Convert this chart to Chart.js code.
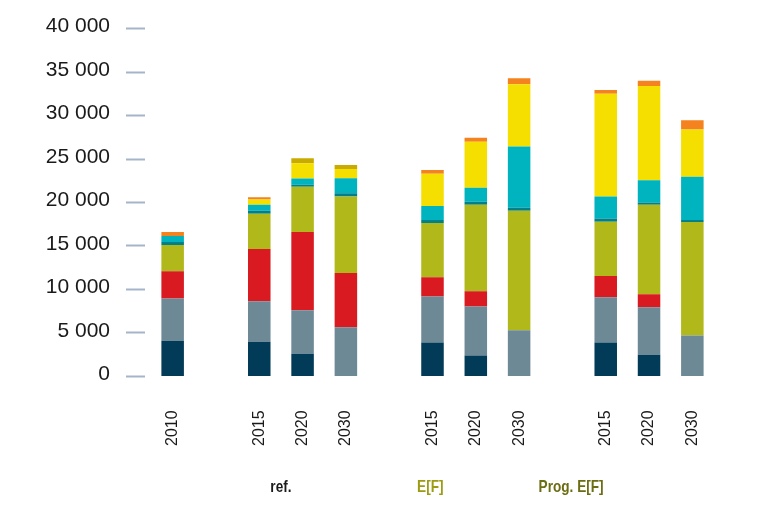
<!DOCTYPE html>
<html lang="en">
<head>
    <meta charset="UTF-8">
    <title>Stacked bars</title>
    <script src="https://cdn.jsdelivr.net/npm/chart.js"></script>
    <style>
        html, body { margin: 0; padding: 0; background: #fff; }
        #wrap { width: 767px; height: 508px; }
    </style>
</head>
<body>
    <div id="wrap"><canvas id="chart"></canvas></div>
    <script>
        // categories ('' = spacer between groups)
        const years = ['2010', '', '2015', '2020', '2030', '', '2015', '2020', '2030', '', '2015', '2020', '2030'];
        const groups = ['ref.', 'E[F]', 'Prog. E[F]'];
        const yTicks = [0, 5000, 10000, 15000, 20000, 25000, 30000, 35000, 40000];

        // series, bottom to top
        const navy   = [4100, null, 4000, 2600, 0,    null, 3900, 2400, 0,     null, 3900, 2500, 0];
        const grey   = [4850, null, 4650, 5000, 5650, null, 5300, 5650, 5300,  null, 5200, 5450, 4700];
        const red    = [3150, null, 6000, 9000, 6250, null, 2200, 1750, 0,     null, 2450, 1500, 0];
        const olive  = [3000, null, 4050, 5200, 8800, null, 6250, 9950, 13750, null, 6250, 10300, 13050];
        const teal   = [350,  null, 350,  250,  350,  null, 350,  350,  350,   null, 350,  250,  250];
        const cyan   = [700,  null, 700,  700,  1750, null, 1600, 1600, 7050,  null, 2550, 2550, 4950];
        const yellow = [0,    null, 600,  1750, 1050, null, 3700, 5300, 7150,  null, 11800, 10850, 5450];
        const orange = [450,  null, 250,  600,  450,  null, 450,  450,  700,   null, 450,  600,  1050];

        const topColors = years.map((y, i) => (i === 3 || i === 4) ? '#c9ab00' : '#f4821f');

        // group names under the year labels, drawn condensed
        const groupLabels = {
            id: 'groupLabels',
            afterDraw(chart) {
                const ctx = chart.ctx;
                const x = chart.scales.x;
                const pos = [2.5, 5.95, 9.2];
                const cols = ['#1a1a1a', '#9c9c12', '#6c6c12'];
                const sx = 0.8;
                ctx.save();
                ctx.font = 'bold 17px "Liberation Sans", Arial, sans-serif';
                ctx.textAlign = 'center';
                ctx.textBaseline = 'middle';
                ctx.scale(sx, 1);
                groups.forEach((g, i) => {
                    ctx.fillStyle = cols[i];
                    ctx.fillText(g, x.getPixelForValue(pos[i]) / sx, 487);
                });
                ctx.restore();
            }
        };

        const ds = (data, color) => ({ data: data, backgroundColor: color, borderWidth: 0 });

        new Chart(document.getElementById('chart'), {
            type: 'bar',
            data: {
                labels: years,
                datasets: [
                    ds(navy, '#023b57'),
                    ds(grey, '#6d8996'),
                    ds(red, '#d91a20'),
                    ds(olive, '#b1b81a'),
                    ds(teal, '#00808b'),
                    ds(cyan, '#00b4bf'),
                    ds(yellow, '#f4df00'),
                    ds(orange, topColors)
                ]
            },
            options: {
                responsive: true,
                maintainAspectRatio: false,
                animation: false,
                categoryPercentage: 1,
                barPercentage: 0.52,
                layout: { padding: { top: 21, right: 53, bottom: 28, left: 45 } },
                plugins: {
                    legend: { display: false },
                    tooltip: { enabled: false }
                },
                scales: {
                    x: {
                        stacked: true,
                        grid: { display: false, drawTicks: false },
                        border: { display: false },
                        ticks: {
                            color: '#1a1a1a',
                            font: { family: '"Liberation Sans", Arial, sans-serif', size: 16 },
                            minRotation: 90,
                            maxRotation: 90,
                            padding: 34,
                            autoSkip: false
                        }
                    },
                    y: {
                        stacked: true,
                        min: 0,
                        max: 40000,
                        afterBuildTicks(scale) { scale.ticks = yTicks.map(v => ({ value: v })); },
                        afterFit(scale) { scale.width = 106; },
                        border: { display: false },
                        grid: {
                            drawOnChartArea: false,
                            tickLength: 25,
                            tickColor: '#a5b4c9',
                            tickWidth: 2,
                            tickBorderDash: [19, 30]
                        },
                        ticks: {
                            color: '#1a1a1a',
                            padding: 16,
                            labelOffset: -2,
                            font: { family: '"Liberation Sans", Arial, sans-serif', size: 21 },
                            callback: v => String(v).replace(/\B(?=(\d{3})+(?!\d))/g, ' ')
                        }
                    }
                }
            },
            plugins: [groupLabels]
        });
    </script>
</body>
</html>
